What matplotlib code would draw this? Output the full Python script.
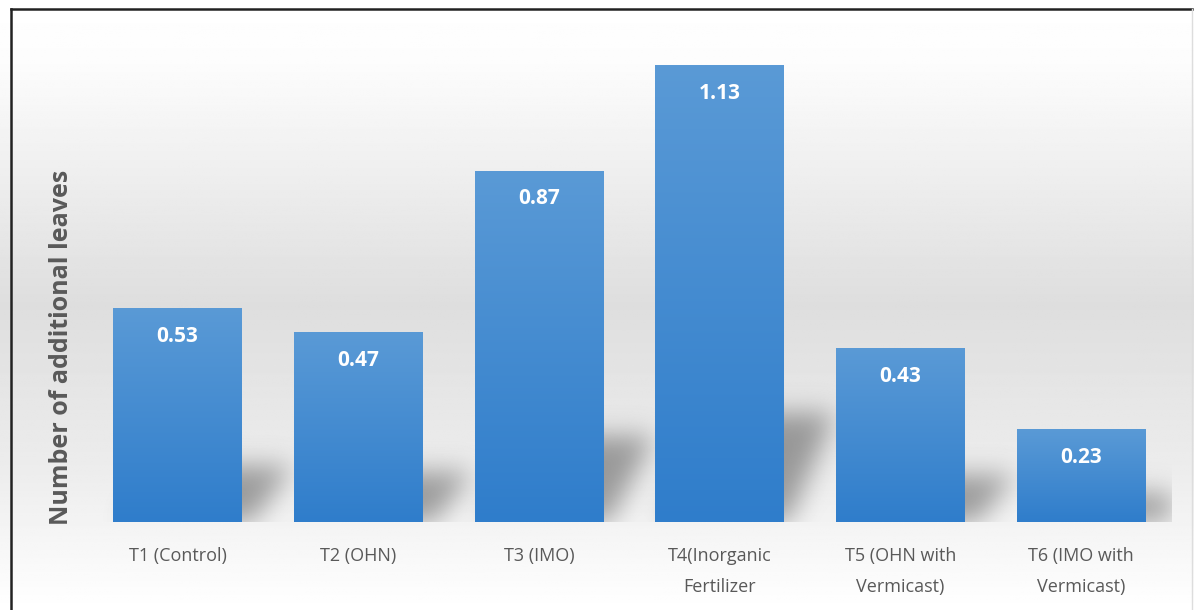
import matplotlib
matplotlib.use("Agg")
import matplotlib.pyplot as plt
import numpy as np
from matplotlib.path import Path
from matplotlib.colors import LinearSegmentedColormap

plt.rcParams['font.family'] = ['Open Sans', 'DejaVu Sans']

# data
categories = ["T1 (Control)", "T2 (OHN)", "T3 (IMO)", "T4(Inorganic\nFertilizer",
              "T5 (OHN with\nVermicast)", "T6 (IMO with\nVermicast)"]
values = [0.53, 0.47, 0.87, 1.13, 0.43, 0.23]
y_label = "Number of additional leaves"

fig = plt.figure(figsize=(11.94, 6.1), dpi=100)

# background gradient: white top, light gray middle, white at bottom
bg = fig.add_axes([0, 0, 1, 1], zorder=0)
bg.axis("off")
rows = np.linspace(0, 1, 300)
shade = np.interp(rows, [0, 0.1, 0.5, 0.78, 1.0], [1.0, 0.99, 0.87, 0.93, 1.0])
bg.imshow(np.tile(shade[:, None], (1, 10)), cmap="gray", vmin=0, vmax=1,
          aspect="auto", extent=[0, 1, 0, 1])
bg.set_xlim(0, 1)
bg.set_ylim(0, 1)
# frame (top and left edges visible)
bg.plot([0.009, 0.009], [0.0, 0.985], color="#222222", lw=1.8)
bg.plot([0.009, 0.998], [0.985, 0.985], color="#222222", lw=1.8)
bg.plot([0.998, 0.998], [0.0, 0.985], color="#dddddd", lw=1)

ax = fig.add_axes([0.073, 0.144, 0.908, 0.795], zorder=1)
ax.patch.set_alpha(0)
x = np.arange(len(values))
width = 0.71
xmin, xmax, ymax = -0.5, len(values) - 0.5, 1.2
ax.set_xlim(xmin, xmax)
ax.set_ylim(0, ymax)

# soft cast shadows: sheared copy of each bar, blurred
nx, ny = 1084, 485
gx = np.linspace(xmin, xmax, nx)
gy = np.linspace(0, ymax, ny)
GX, GY = np.meshgrid(gx, gy)
pts = np.column_stack([GX.ravel(), GY.ravel()])
mask = np.zeros(GX.size)
for xi, v in zip(x, values):
    l, r = xi - width / 2, xi + width / 2
    hs = 0.22 * v + 0.02
    dx = 0.28
    p = Path([(l, -0.05), (r - 0.02, -0.05), (r + dx, hs), (l + dx, hs)])
    mask = np.maximum(mask, p.contains_points(pts).astype(float))
mask = mask.reshape(ny, nx)
sig = 13
k = np.exp(-0.5 * (np.arange(-3 * sig, 3 * sig + 1) / sig) ** 2)
k /= k.sum()
mask = np.apply_along_axis(lambda m: np.convolve(m, k, mode="same"), 1, mask)
mask = np.apply_along_axis(lambda m: np.convolve(m, k, mode="same"), 0, mask)
rgba = np.zeros((ny, nx, 4))
rgba[..., :3] = 0.38
rgba[..., 3] = mask * 0.6
ax.imshow(rgba, origin="lower", aspect="auto", extent=[xmin, xmax, 0, ymax], zorder=1)

cmap = LinearSegmentedColormap.from_list("barblue", ["#2f7dcb", "#5a9ad6"])
bars = ax.bar(x, values, width=width, color="none", edgecolor="none", zorder=2)
grad = np.linspace(0, 1, 256)[:, None]
for b in bars:
    im = ax.imshow(grad, cmap=cmap, aspect="auto", origin="lower",
                   extent=[b.get_x(), b.get_x() + b.get_width(), 0, b.get_height()],
                   zorder=2)
    im.set_clip_path(b)

for xi, v in zip(x, values):
    ax.text(xi, v - 0.07, f"{v:.2f}", ha="center", va="center",
            color="white", fontsize=15, fontweight="bold", zorder=3)

ax.set_xlim(xmin, xmax)
ax.set_ylim(0, ymax)
ax.set_xticks(x)
ax.set_xticklabels(categories, fontsize=13, color="#595959", linespacing=1.9)
ax.tick_params(axis="x", length=0, pad=18)
ax.set_yticks([])
for sp in ax.spines.values():
    sp.set_visible(False)
ax.set_ylabel(y_label, fontsize=18, fontweight="bold", color="#595959")
ax.yaxis.set_label_coords(-0.012, 0.36)

fig.savefig("out.png", dpi=100)
